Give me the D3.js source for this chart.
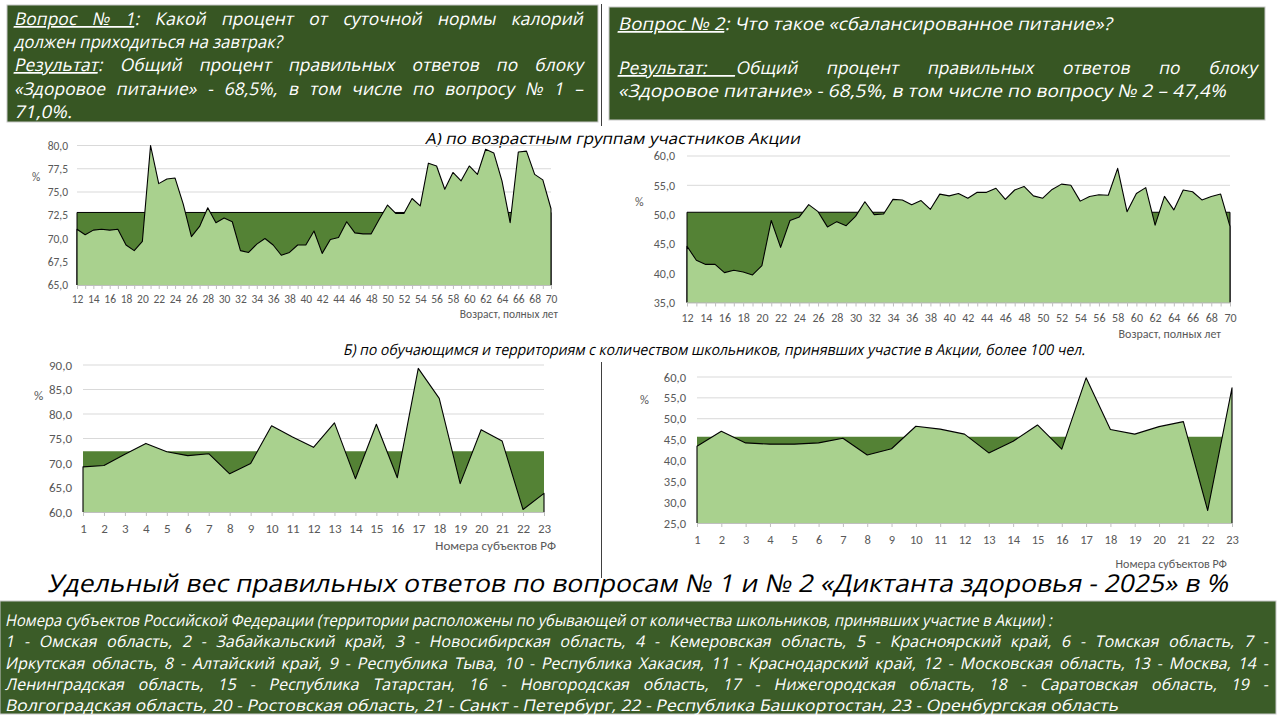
<!DOCTYPE html>
<html>
<head>
<meta charset="utf-8">
<script src="https://cdn.jsdelivr.net/npm/d3@7"></script>
<style>
  html, body { margin: 0; padding: 0; background: #fff; }
  svg { display: block; }
</style>
</head>
<body>
<svg id="slide" width="1280" height="720"></svg>
<script>
// ---- data ----
const ages = [12,13,14,15,16,17,18,19,20,21,22,23,24,25,26,27,28,29,30,31,32,33,34,35,36,37,38,39,40,
  41,42,43,44,45,46,47,48,49,50,51,52,53,54,55,56,57,58,59,60,61,62,63,64,65,66,67,68,69,70];
const ageLabels = [12,14,16,18,20,22,24,26,28,30,32,34,36,38,40,42,44,46,48,50,52,54,56,58,60,62,64,66,68,70];
const regions = [1,2,3,4,5,6,7,8,9,10,11,12,13,14,15,16,17,18,19,20,21,22,23];

const q1ByAge = [71.0,70.4,70.9,71.0,70.9,71.0,69.3,68.7,69.7,80.0,75.9,76.4,76.5,73.7,70.2,71.3,73.3,71.7,72.2,71.8,
  68.7,68.5,69.4,70.0,69.3,68.2,68.5,69.3,69.3,70.8,68.4,69.9,70.1,71.8,70.6,70.5,70.5,72.1,73.6,72.7,
  72.7,74.3,73.5,78.1,77.8,75.3,77.1,76.2,77.8,76.9,79.6,79.2,76.2,71.7,79.3,79.4,76.9,76.3,73.2];
const q1AgeAvg = 72.8;

const q2ByAge = [44.6,42.2,41.5,41.5,40.1,40.5,40.2,39.7,41.3,49.0,44.4,49.0,49.6,51.7,50.5,47.9,48.8,48.1,49.7,52.2,
  50.0,50.1,52.6,52.5,51.7,52.4,50.9,53.5,53.2,53.6,52.8,53.8,53.8,54.5,52.6,54.2,54.8,53.2,52.8,54.3,
  55.2,55.0,52.3,53.1,53.4,53.3,57.9,50.5,53.6,54.6,48.2,53.1,50.8,54.2,53.9,52.5,53.1,53.5,48.0];
const q2AgeAvg = 50.4;

const q1ByRegion = [69.2,69.5,71.8,74.0,72.3,71.5,71.9,67.8,69.9,77.6,75.3,73.2,78.2,66.8,77.9,67.0,89.3,83.2,65.8,76.8,74.5,60.5,63.8];
const q1RegionAvg = 72.4;

const q2ByRegion = [43.4,47.0,44.2,43.9,43.9,44.2,45.3,41.3,42.8,48.2,47.5,46.3,41.8,44.6,48.5,42.7,59.8,47.4,46.3,48.1,49.3,28.0,57.4];
const q2RegionAvg = 45.7;

const ticks1 = [65, 67.5, 70, 72.5, 75, 77.5, 80];
const ticks2 = [35, 40, 45, 50, 55, 60];
const ticks3 = [60, 65, 70, 75, 80, 85, 90];
const ticks4 = [25, 30, 35, 40, 45, 50, 55, 60];

// ---- texts ----
const box1Lines = [
  [[{t: "Вопрос № 1", u: true}, {t: ": Какой процент от суточной нормы калорий"}], true],
  [[{t: "должен приходиться на завтрак?"}], false],
  [[{t: "Результат", u: true}, {t: ": Общий процент правильных ответов по блоку"}], true],
  [[{t: "«Здоровое питание» - 68,5%, в том числе по вопросу № 1 –"}], true],
  [[{t: "71,0%."}], false]
];
const box2Lines = [
  [[{t: "Вопрос № 2", u: true}, {t: ": Что такое «сбалансированное питание»?"}], false],
  [[{t: "Результат: ", u: true}, {t: "Общий процент правильных ответов по блоку"}], true],
  [[{t: "«Здоровое питание» - 68,5%, в том числе по вопросу № 2 – 47,4%"}], false]
];
const legendLines = [
  ["Номера субъектов Российской Федерации (территории расположены по убывающей от количества школьников, принявших участие в Акции) :", false],
  ["1 - Омская область, 2 - Забайкальский край, 3 - Новосибирская область, 4 - Кемеровская область, 5 - Красноярский край, 6 - Томская область, 7 -", true],
  ["Иркутская область, 8 - Алтайский край, 9 - Республика Тыва, 10 - Республика Хакасия, 11 - Краснодарский край, 12 - Московская область, 13 - Москва, 14 -", true],
  ["Ленинградская область, 15 - Республика Татарстан, 16 - Новгородская область, 17 - Нижегородская область, 18 - Саратовская область, 19 -", true],
  ["Волгоградская область, 20 - Ростовская область, 21 - Санкт - Петербург, 22 - Республика Башкортостан, 23 - Оренбургская область", false]
];

const FONT = "Carlito, 'Liberation Sans Narrow', 'Open Sans', sans-serif";
const SLANT = "'Open Sans', 'Noto Sans', sans-serif";
const darkGreen = "#548235";
const lightGreen = "#a9d18e";
const boxGreen = "#375623";
const fmt = d => d3.format(".1f")(d).replace(".", ",");

// one line of slanted text, stretched to the given width
function fitLine(g, x, y, parts, width, justify, size, color) {
  const t = g.append("text")
    .attr("x", 0).attr("y", 0)
    .attr("transform", `translate(${x},${y}) skewX(-12)`)
    .attr("fill", color)
    .style("font-family", SLANT)
    .style("font-size", size + "px");
  parts.forEach(p => {
    t.append("tspan").text(p.t).attr("text-decoration", p.u ? "underline" : null);
  });
  const natural = t.node().getComputedTextLength();
  const full = parts.map(p => p.t).join("");
  const spaces = (full.match(/ /g) || []).length;
  if (justify && natural < width && spaces > 0) {
    t.style("word-spacing", ((width - natural) / spaces) + "px");
  } else {
    t.attr("textLength", width).attr("lengthAdjust", "spacingAndGlyphs");
  }
}

function drawChart(svg, cfg) {
  const g = svg.append("g");
  const x = d3.scalePoint().domain(cfg.cats).range([cfg.x0, cfg.x1]);
  const y = d3.scaleLinear().domain(cfg.domain).range([cfg.yBottom, cfg.yTop]);
  const base = cfg.domain[0];

  // grid
  g.append("g").selectAll("line").data(cfg.ticks).enter().append("line")
    .attr("x1", cfg.x0).attr("x2", cfg.x1)
    .attr("y1", d => y(d)).attr("y2", d => y(d))
    .attr("stroke", "#d9d9d9").attr("stroke-width", 1);

  // average band
  const band = [cfg.cats[0], cfg.cats[cfg.cats.length - 1]];
  g.append("path")
    .datum(band)
    .attr("d", d3.area().x(d => x(d)).y0(y(base)).y1(y(cfg.avg)))
    .attr("fill", darkGreen);
  if (cfg.bandStroke) {
    g.append("path")
      .datum([[band[0], base], [band[0], cfg.avg], [band[1], cfg.avg], [band[1], base]])
      .attr("d", d3.line().x(d => x(d[0])).y(d => y(d[1])))
      .attr("fill", "none").attr("stroke", "#000").attr("stroke-width", 1);
  }

  // values
  const pts = cfg.cats.map((c, i) => ({c, v: cfg.values[i]}));
  g.append("path")
    .datum(pts)
    .attr("d", d3.area().x(d => x(d.c)).y0(y(base)).y1(d => y(d.v)))
    .attr("fill", lightGreen);
  const outline = [{c: cfg.cats[0], v: base}].concat(pts, [{c: cfg.cats[cfg.cats.length - 1], v: base}]);
  g.append("path")
    .datum(outline)
    .attr("d", d3.line().x(d => x(d.c)).y(d => y(d.v)))
    .attr("fill", "none").attr("stroke", "#000").attr("stroke-width", 1.1)
    .attr("stroke-linejoin", "round");

  // y axis labels
  const ya = g.append("g")
    .attr("transform", `translate(${cfg.x0},0)`)
    .call(d3.axisLeft(y).tickValues(cfg.ticks).tickFormat(fmt).tickSize(0).tickPadding(cfg.yPad));
  ya.select(".domain").remove();
  ya.selectAll("text")
    .attr("fill", "#595959")
    .style("font-family", FONT)
    .style("font-size", cfg.yFont + "px");

  // x axis
  const xa = g.append("g")
    .attr("transform", `translate(0,${cfg.yBottom})`)
    .call(d3.axisBottom(x).tickSize(4).tickPadding(cfg.xPad)
      .tickFormat(d => cfg.labels.includes(d) ? d : ""));
  xa.select(".domain").attr("stroke", "#bfbfbf").attr("d", `M${cfg.x0},0.5H${cfg.x1}`);
  xa.selectAll(".tick line").attr("stroke", "#bfbfbf");
  xa.selectAll("text")
    .attr("fill", "#595959")
    .style("font-family", FONT)
    .style("font-size", cfg.xFont + "px");

  g.append("text")
    .attr("x", cfg.pct[0]).attr("y", cfg.pct[1])
    .attr("fill", "#595959")
    .style("font-family", FONT)
    .style("font-size", cfg.yFont + "px")
    .text("%");

  g.append("text")
    .attr("x", cfg.title[0]).attr("y", cfg.title[1])
    .attr("text-anchor", "end")
    .attr("fill", "#595959")
    .style("font-family", FONT)
    .style("font-size", cfg.titleFont + "px")
    .text(cfg.titleText);
}

function draw() {
  const svg = d3.select("#slide");
  svg.append("rect").attr("width", 1280).attr("height", 720).attr("fill", "#fff");

  // question boxes
  svg.append("rect").attr("x", 7).attr("y", 5).attr("width", 591).attr("height", 117)
    .attr("fill", boxGreen).attr("stroke", "#c8c8c8").attr("stroke-width", 1);
  svg.append("rect").attr("x", 609).attr("y", 7).attr("width", 656).attr("height", 113)
    .attr("fill", boxGreen).attr("stroke", "#c8c8c8").attr("stroke-width", 1);

  const b1y = [25, 48, 71, 95, 118];
  const b1w = [569, 268, 569, 569, 58];
  box1Lines.forEach((l, i) => fitLine(svg, 14, b1y[i], l[0], b1w[i], l[1], 17.5, "#fff"));

  const b2y = [30, 74, 97];
  const b2w = [494, 639, 608];
  box2Lines.forEach((l, i) => fitLine(svg, 618, b2y[i], l[0], b2w[i], l[1], 17.5, "#fff"));

  // separators
  svg.append("line").attr("x1", 601.5).attr("x2", 601.5).attr("y1", 4).attr("y2", 126)
    .attr("stroke", "#404040").attr("stroke-width", 1);
  svg.append("line").attr("x1", 601.5).attr("x2", 601.5).attr("y1", 362).attr("y2", 578)
    .attr("stroke", "#404040").attr("stroke-width", 1);

  // section titles
  fitLine(svg, 425, 144, [{t: "А) по возрастным группам участников Акции"}], 375, false, 15.5, "#000");
  fitLine(svg, 343, 355, [{t: "Б) по обучающимся и территориям с количеством школьников,  принявших участие в Акции, более 100 чел."}], 742, false, 15, "#000");

  drawChart(svg, {
    cats: ages, labels: ageLabels, values: q1ByAge, avg: q1AgeAvg,
    domain: [65, 80], ticks: ticks1, x0: 77, x1: 551, yTop: 145.5, yBottom: 285,
    bandStroke: true, yPad: 9, yFont: 11.5, xPad: 6, xFont: 11.5,
    pct: [32, 181], title: [558, 318], titleFont: 11.5, titleText: "Возраст, полных лет"
  });
  drawChart(svg, {
    cats: ages, labels: ageLabels, values: q2ByAge, avg: q2AgeAvg,
    domain: [35, 60], ticks: ticks2, x0: 687, x1: 1230, yTop: 156, yBottom: 302.5,
    bandStroke: true, yPad: 12, yFont: 12, xPad: 7, xFont: 12,
    pct: [635, 206], title: [1221, 338], titleFont: 12, titleText: "Возраст, полных лет"
  });
  drawChart(svg, {
    cats: regions, labels: regions, values: q1ByRegion, avg: q1RegionAvg,
    domain: [60, 90], ticks: ticks3, x0: 83, x1: 544, yTop: 365, yBottom: 512,
    bandStroke: false, yPad: 11, yFont: 13, xPad: 8, xFont: 13,
    pct: [34, 400], title: [556, 550], titleFont: 13, titleText: "Номера субъектов РФ"
  });
  drawChart(svg, {
    cats: regions, labels: regions, values: q2ByRegion, avg: q2RegionAvg,
    domain: [25, 60], ticks: ticks4, x0: 697, x1: 1232, yTop: 377, yBottom: 523,
    bandStroke: false, yPad: 11, yFont: 12.5, xPad: 8, xFont: 12.5,
    pct: [640, 404], title: [1227, 568], titleFont: 12, titleText: "Номера субъектов РФ"
  });

  // main title
  fitLine(svg, 47, 592, [{t: "Удельный вес правильных ответов по вопросам № 1 и № 2 «Диктанта здоровья - 2025» в %"}], 1181, false, 24.5, "#000");

  // legend box
  svg.append("rect").attr("x", 0).attr("y", 601).attr("width", 1276).attr("height", 113)
    .attr("fill", "#3b5c28").attr("stroke", "#c8c8c8").attr("stroke-width", 1);
  const ly = [626, 647, 669, 690, 711];
  const lw = [1047, 1263, 1263, 1263, 1113];
  legendLines.forEach((l, i) => fitLine(svg, 5, ly[i], [{t: l[0]}], lw[i], l[1], 16, "#fff"));
}

(document.fonts && document.fonts.ready ? document.fonts.ready : Promise.resolve()).then(draw);
</script>
</body>
</html>
